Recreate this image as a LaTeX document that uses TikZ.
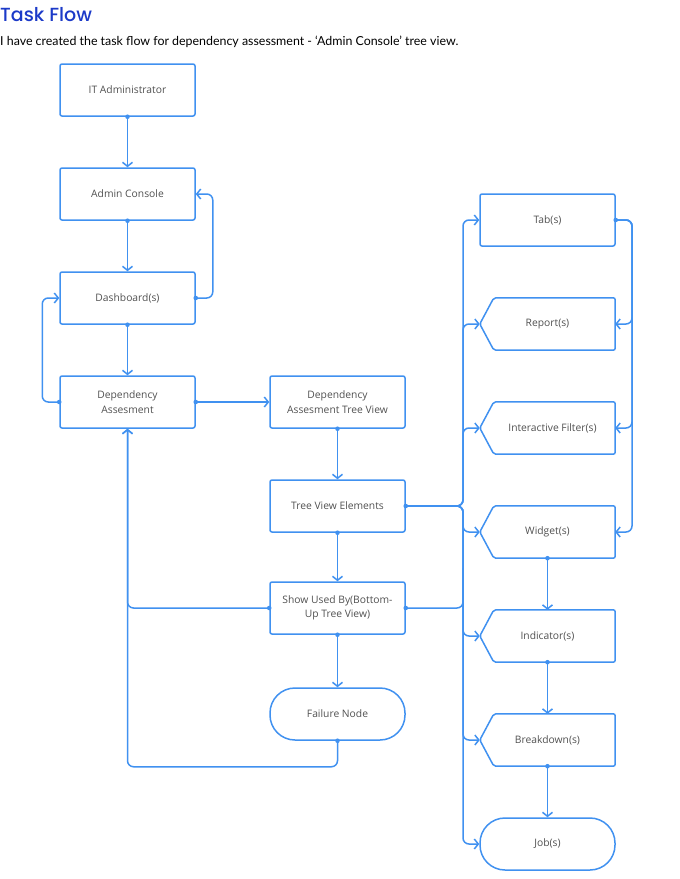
\documentclass[tikz,border=0pt]{standalone}
\usepackage{fontspec}
\setmainfont{Open Sans}
\newfontfamily\titlefont{Poppins Medium}
\newfontfamily\subfont{Lato}
\usetikzlibrary{arrows.meta,positioning,calc}
\definecolor{flowblue}{RGB}{64,145,240}
\definecolor{titleblue}{RGB}{28,58,200}
\definecolor{txtgray}{RGB}{80,80,80}
\tikzset{
  box/.style={draw=flowblue,line width=1.5pt,rounded corners=2pt,minimum width=135pt,minimum height=52pt,align=center,font=\fontsize{10.3}{14.5}\selectfont,text=txtgray,inner sep=0pt},
  pentabox/.style={minimum width=135pt,minimum height=52pt,align=center,font=\fontsize{10.3}{14.5}\selectfont,text=txtgray,inner sep=0pt},
  stadium/.style={box,rounded corners=25pt},
  outline/.style={draw=flowblue,line width=1.5pt,rounded corners=2pt},
  conn/.style={draw=flowblue,line width=1.5pt,rounded corners=6pt,-{Straight Barb[length=4pt,width=10pt,line width=1.5pt]}},
  plain/.style={draw=flowblue,line width=1.5pt,rounded corners=6pt}
}
\newcommand{\startdot}[1]{\fill[flowblue] (#1) circle (2.3pt);}
\begin{document}
\begin{tikzpicture}[x=1pt,y=-1pt]
\useasboundingbox (0,0) rectangle (680,879);
\node[anchor=base west,inner sep=0pt,text=titleblue,font=\titlefont\fontsize{19}{22}\selectfont] (title) at (0,21) {Task Flow};
\node[anchor=base west,inner sep=0pt,font=\subfont\fontsize{12.4}{14}\selectfont] (subt) at (0,45) {I have created the task flow for dependency assessment - ‘Admin Console’ tree view.};

% left column
\node[box] (it) at (127.5,90) {IT Administrator};
\node[box] (admin) at (127.5,194) {Admin Console};
\node[box] (dash) at (127.5,298) {Dashboard(s)};
\node[box] (dep) at (127.5,402) {Dependency\\Assesment};
% middle column
\node[box] (datv) at (337.5,402) {Dependency\\Assesment Tree View};
\node[box] (tve) at (337.5,506) {Tree View Elements};
\node[box] (sub) at (337.5,608) {Show Used By(Bottom-\\Up Tree View)};
\node[stadium] (fail) at (337.5,714) {Failure Node};
% right column
\node[box] (tab) at (547.5,220) {Tab(s)};
\node[pentabox] (report) at (547.5,324) {Report(s)};
\node[pentabox] (ifil) at (547.5,428) {\hspace{10pt}Interactive Filter(s)};
\node[pentabox] (widget) at (547.5,532) {Widget(s)};
\node[pentabox] (indic) at (547.5,636) {Indicator(s)};
\node[pentabox] (brk) at (547.5,740) {Breakdown(s)};
\node[stadium] (job) at (547.5,844) {Job(s)};

\foreach \n in {report,ifil,widget,indic,brk}{
  \draw[outline] ([xshift=14pt]\n.north west) -- (\n.north east) -- (\n.south east) -- ([xshift=14pt]\n.south west) -- (\n.west) -- cycle;
}

% left connectors
\draw[conn] (it.south) -- (admin.north);
\draw[conn] (admin.south) -- (dash.north);
\draw[conn] (dash.south) -- (dep.north);
\draw[conn] (dash.east) -- ++(17,0) |- (admin.east);
\draw[conn] (dep.west) -- ++(-17,0) |- (dash.west);
\draw[conn] (dep.east) -- (datv.west);
\draw[conn] (datv.south) -- (tve.north);
\draw[conn] (tve.south) -- (sub.north);
\draw[conn] (sub.south) -- (fail.north);
\draw[conn] (sub.west) -| (dep.south);
\draw[conn] (fail.south) -- ++(0,26) -| (dep.south);

% bus from tree view elements
\coordinate (busx) at (463,0);
\foreach \t in {tab,report,ifil,widget,indic,brk,job}{
  \draw[conn] (tve.east) -- (tve.east -| busx) |- (\t.west);
}
\draw[plain] (sub.east) -- (sub.east -| busx) -- ($(sub.east -| busx)+(0,-40)$);

% right bus from tabs
\coordinate (rbus) at (632,0);
\foreach \t in {report,ifil,widget}{
  \draw[conn] (tab.east) -- (tab.east -| rbus) |- (\t.east);
}
\draw[conn] (widget.south) -- (indic.north);
\draw[conn] (indic.south) -- (brk.north);
\draw[conn] (brk.south) -- (job.north);

% start dots
\foreach \p in {it.south,admin.south,dash.south,dash.east,dep.west,dep.east,datv.south,tve.south,sub.south,sub.west,sub.east,fail.south,tve.east,tab.east,widget.south,indic.south,brk.south}{
  \startdot{\p}
}
\end{tikzpicture}
\end{document}
